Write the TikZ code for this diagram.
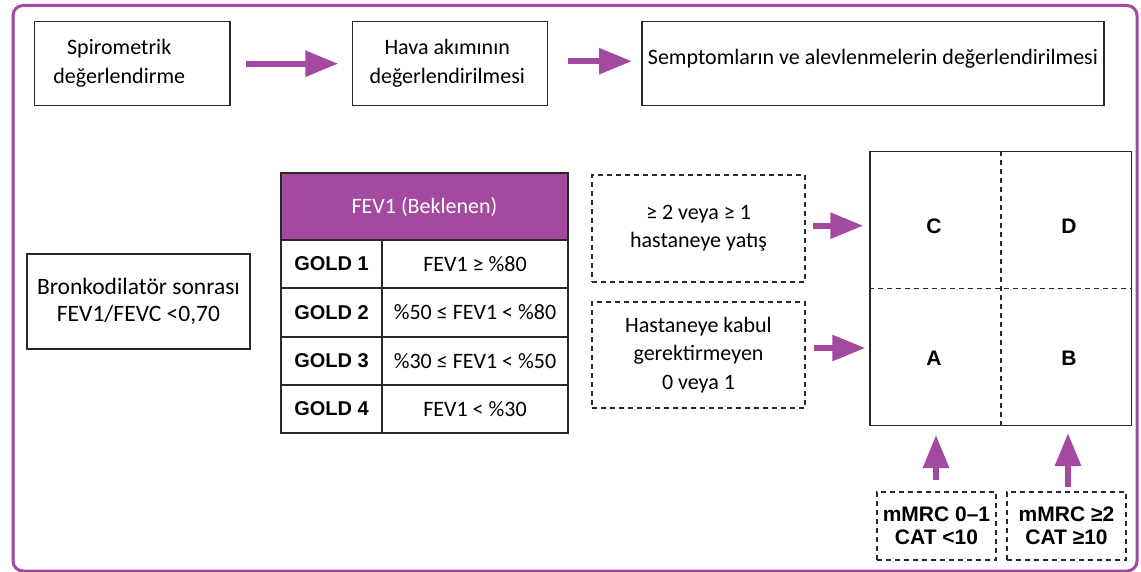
\documentclass[tikz,border=0pt]{standalone}
\usepackage{fontspec}
\setmainfont{Carlito}
\newfontfamily\arialfont{Liberation Sans}
\usetikzlibrary{arrows.meta,calc}
\definecolor{purp}{RGB}{163,73,160}
\definecolor{edgec}{RGB}{40,40,40}
\begin{document}
\begin{tikzpicture}[x=1pt,y=-1pt,
  tx/.style={font=\fontsize{22}{29}\selectfont,align=center,inner sep=0pt},
  solidbox/.style={draw=edgec,line width=1.5pt,inner sep=0pt,align=center,font=\fontsize{22}{28}\selectfont},
  dashbox/.style={draw=edgec,line width=1.3pt,dash pattern=on 5pt off 4pt,inner sep=0pt,align=center},
  bigarrow/.style={draw=purp,line width=6pt,-{Triangle[length=33pt,width=25pt]}},
  cell/.style={draw=edgec,line width=1.5pt,inner sep=0pt,align=center},
  gold/.style={cell,minimum width=101pt,minimum height=48pt,font=\arialfont\bfseries\fontsize{20}{24}\selectfont},
  val/.style={cell,minimum width=186pt,minimum height=48pt,font=\fontsize{22}{26}\selectfont},
  letter/.style={font=\arialfont\bfseries\fontsize{21}{25}\selectfont,inner sep=0pt},
  mbox/.style={dashbox,minimum width=119pt,minimum height=68pt,font=\arialfont\bfseries\fontsize{21}{23.5}\selectfont}
]
\useasboundingbox (0,0) rectangle (1141,572);
\fill[white] (0,0) rectangle (1141,572);
% outer frame
\draw[purp,line width=3pt,rounded corners=10pt] (13,5.5) rectangle (1137,571);

% top row
\node[solidbox,minimum width=195.6pt,minimum height=84pt,
  label={[tx,xshift=-13pt]center:{Spirometrik\\değerlendirme}}] (b1) at (132.2,63.7) {};
\node[solidbox,minimum width=195pt,minimum height=84pt,
  label={[tx,xshift=-3pt]center:{Hava akımının\\değerlendirilmesi}}] (b2) at (450.2,63.7) {};
\node[solidbox,minimum width=462.3pt,minimum height=84pt,
  label={[tx,yshift=5pt]center:{Semptomların ve alevlenmelerin değerlendirilmesi}}] (b3) at (872.9,63.7) {};
\draw[bigarrow] ($(b1.east)+(15.7,0)$) -- ($(b2.west)+(-13.7,0)$);
\draw[bigarrow] ($(b2.east)+(20,-2.5)$) -- ($(b3.west)+(-9,-2.5)$);

% left box
\node[solidbox,minimum width=223pt,minimum height=95pt,font=\fontsize{23.5}{27}\selectfont] (bk) at (138.5,301.5) {Bronkodilatör sonrası\\FEV1/FEVC <0,70};

% table
\node[cell,fill=purp,text=white,minimum width=287pt,minimum height=67pt,font=\fontsize{22}{26}\selectfont] (hd) at (424.5,206.5) {FEV1 (Beklenen)};
\node[gold] (g1) at (331.5,264) {GOLD 1};
\node[val]  (v1) at (475,264) {FEV1 ≥ \%80};
\node[gold] (g2) at (331.5,312.5) {GOLD 2};
\node[val]  (v2) at (475,312.5) {\%50 ≤ FEV1 < \%80};
\node[gold] (g3) at (331.5,361) {GOLD 3};
\node[val]  (v3) at (475,361) {\%30 ≤ FEV1 < \%50};
\node[gold] (g4) at (331.5,409) {GOLD 4};
\node[val]  (v4) at (475,409) {FEV1 < \%30};

% exacerbation boxes
\node[dashbox,minimum width=213pt,minimum height=107pt,font=\fontsize{22}{28}\selectfont] (e1) at (698.5,228.5) {≥ 2 veya ≥ 1\\hastaneye yatış};
\node[dashbox,minimum width=213pt,minimum height=106pt,font=\fontsize{22}{28.5}\selectfont] (e2) at (698.5,355) {Hastaneye kabul\\gerektirmeyen\\0 veya 1};

% grid
\node[draw=edgec,line width=1.5pt,minimum width=261.7pt,minimum height=274pt,inner sep=0pt] (grid) at (1000.85,288.7) {};
\draw[edgec,line width=1.3pt,dash pattern=on 5pt off 4pt] (grid.north) -- (grid.south);
\draw[edgec,line width=1.3pt,dash pattern=on 5pt off 4pt] (grid.west) -- (grid.east);
\node[letter] (C) at (934,226) {C};
\node[letter] (D) at (1069,226) {D};
\node[letter] (A) at (934,358) {A};
\node[letter] (B) at (1069,358) {B};

\coordinate (t1) at ($(grid.west)+(-6,-63)$);
\coordinate (t2) at ($(grid.west)+(-4,59.3)$);
\draw[bigarrow] (e1.east |- t1) ++(7,0) -- (t1);
\draw[bigarrow] (e2.east |- t2) ++(8,0) -- (t2);

% bottom boxes
\node[mbox] (m1) at (936.5,526) {mMRC 0–1\\CAT <10};
\node[mbox] (m2) at (1066.5,526) {mMRC ≥2\\CAT ≥10};
\coordinate (u1) at (936,435);
\coordinate (u2) at (1068,433);
\draw[bigarrow] (u1 |- m1.north) ++(0,-11) -- (u1);
\draw[bigarrow] (u2 |- m2.north) ++(0,-4) -- (u2);
\end{tikzpicture}
\end{document}
